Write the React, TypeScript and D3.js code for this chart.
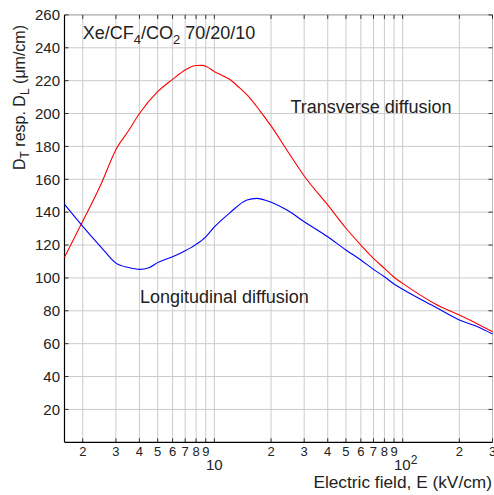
import React from "react";
import * as d3 from "d3";

const fieldT = [1.6, 1.8, 2, 2.5, 3, 3.5, 4, 5, 6, 7, 8, 8.7, 9, 9.5, 10, 11, 12, 13.4, 15, 17.5, 20, 25, 30, 40, 50, 60, 70, 80, 90, 100, 150, 200, 250, 300];
const transverse = [112.5, 124.2, 134.5, 157, 178, 189.5, 200, 213.3, 220.8, 226.5, 229.2, 229.3, 228.7, 227.2, 225.5, 223.2, 221, 216.3, 211, 201.5, 192.5, 175.5, 162, 144.4, 130.2, 120, 111.9, 105.8, 100.4, 96.7, 84, 77.4, 72, 67.3];

const fieldL = [1.6, 2, 2.5, 3, 3.5, 4, 4.5, 5, 6, 7, 8, 9, 10, 12, 14.9, 16.8, 19, 24.3, 30, 40, 50, 60, 70, 80, 90, 100, 150, 200, 250, 300];
const longitudinal = [144.8, 131.4, 118.8, 109, 106.3, 105.2, 106.2, 109.3, 112.9, 116.5, 120.4, 125, 131, 139.3, 147.4, 148.4, 147, 141.3, 134.2, 125, 117, 110.9, 105.2, 100.7, 96.3, 93.1, 82.1, 74.4, 70.3, 65.9];

const xTicks = [2, 3, 4, 5, 6, 7, 8, 9, 10, 20, 30, 40, 50, 60, 70, 80, 90, 100, 200, 300];
const yTicks = [20, 40, 60, 80, 100, 120, 140, 160, 180, 200, 220, 240, 260];

const W = 494, H = 495;
const L = 64.5, R = 492.5, T = 14.9, B = 442.3;
const FONT = "'Liberation Sans', Arial, Helvetica, sans-serif";

export default function App() {
  const x = d3.scaleLog().domain([1.6, 300]).range([L, R]);
  const y = d3.scaleLinear().domain([0, 260]).range([B, T]);
  const line = d3
    .line<[number, number]>()
    .x((d) => x(d[0]))
    .y((d) => y(d[1]))
    .curve(d3.curveMonotoneX);
  const tData = fieldT.map((f, i) => [f, transverse[i]] as [number, number]);
  const lData = fieldL.map((f, i) => [f, longitudinal[i]] as [number, number]);
  const grid = "#cccccc";
  const tick = "#333333";

  const minorLabel = (v: number) => {
    if (v === 10 || v === 100) return "";
    const s = String(v);
    return s[0];
  };

  return (
    <div style={{ position: "fixed", left: 0, top: 0, width: W, height: H, background: "#fff" }}>
      <svg width={W} height={H} style={{ display: "block" }} fontFamily={FONT}>
        <rect x={0} y={0} width={W} height={H} fill="#fff" />
        {xTicks.map((v) => (
          <line key={"gx" + v} x1={x(v)} x2={x(v)} y1={T} y2={B} stroke={grid} strokeWidth={1} />
        ))}
        {yTicks.map((v) => (
          <line key={"gy" + v} x1={L} x2={R} y1={y(v)} y2={y(v)} stroke={grid} strokeWidth={1} />
        ))}
        <line x1={L} x2={R} y1={T} y2={T} stroke="#aaaaaa" strokeWidth={1} />
        <line x1={R} x2={R} y1={T} y2={B} stroke="#bbbbbb" strokeWidth={1} />
        {xTicks.map((v) => (
          <g key={"tx" + v}>
            <line x1={x(v)} x2={x(v)} y1={B} y2={B - 4} stroke={tick} strokeWidth={1} />
            <line x1={x(v)} x2={x(v)} y1={T} y2={T + 4} stroke={tick} strokeWidth={1} />
          </g>
        ))}
        {yTicks.map((v) => (
          <g key={"ty" + v}>
            <line x1={L} x2={L + 4} y1={y(v)} y2={y(v)} stroke={tick} strokeWidth={1} />
            <line x1={R} x2={R - 4} y1={y(v)} y2={y(v)} stroke={tick} strokeWidth={1} />
          </g>
        ))}
        <line x1={L} x2={L} y1={T} y2={B} stroke="#000" strokeWidth={1.2} />
        <line x1={L} x2={R} y1={B} y2={B} stroke="#000" strokeWidth={1.2} />
        <path d={line(tData) || ""} fill="none" stroke="#ff0000" strokeWidth={1.1} />
        <path d={line(lData) || ""} fill="none" stroke="#0000ff" strokeWidth={1.1} />
        {yTicks.map((v) => (
          <text key={"ly" + v} x={60} y={y(v) + 5.3} textAnchor="end" fontSize={15} fill="#222">
            {v}
          </text>
        ))}
        {xTicks.map((v) => (
          <text key={"lx" + v} x={x(v)} y={456} textAnchor="middle" fontSize={13} fill="#222">
            {minorLabel(v)}
          </text>
        ))}
        <text x={x(10)} y={470} textAnchor="middle" fontSize={15} fill="#222">10</text>
        <text x={x(100) + 3} y={470} textAnchor="middle" fontSize={15} fill="#222">
          10<tspan dy={-6} fontSize={12}>2</tspan>
        </text>
        <text x={492} y={488.3} textAnchor="end" fontSize={17.3} fill="#222">
          Electric field, E (kV/cm)
        </text>
        <text transform="translate(25,170) rotate(-90)" fontSize={16} fill="#222">
          D<tspan dy={4} fontSize={12}>T</tspan>
          <tspan dy={-4}> resp. D</tspan>
          <tspan dy={4} fontSize={12}>L</tspan>
          <tspan dy={-4}> (μm/cm)</tspan>
        </text>
        <text x={82.7} y={39.3} fontSize={18} fill="#222">
          Xe/CF<tspan dy={5} fontSize={13}>4</tspan>
          <tspan dy={-5}>/CO</tspan>
          <tspan dy={5} fontSize={13}>2</tspan>
          <tspan dy={-5}> 70/20/10</tspan>
        </text>
        <text x={290.5} y={113.3} fontSize={18} fill="#222">Transverse diffusion</text>
        <text x={140} y={302.7} fontSize={18} fill="#222">Longitudinal diffusion</text>
      </svg>
    </div>
  );
}
